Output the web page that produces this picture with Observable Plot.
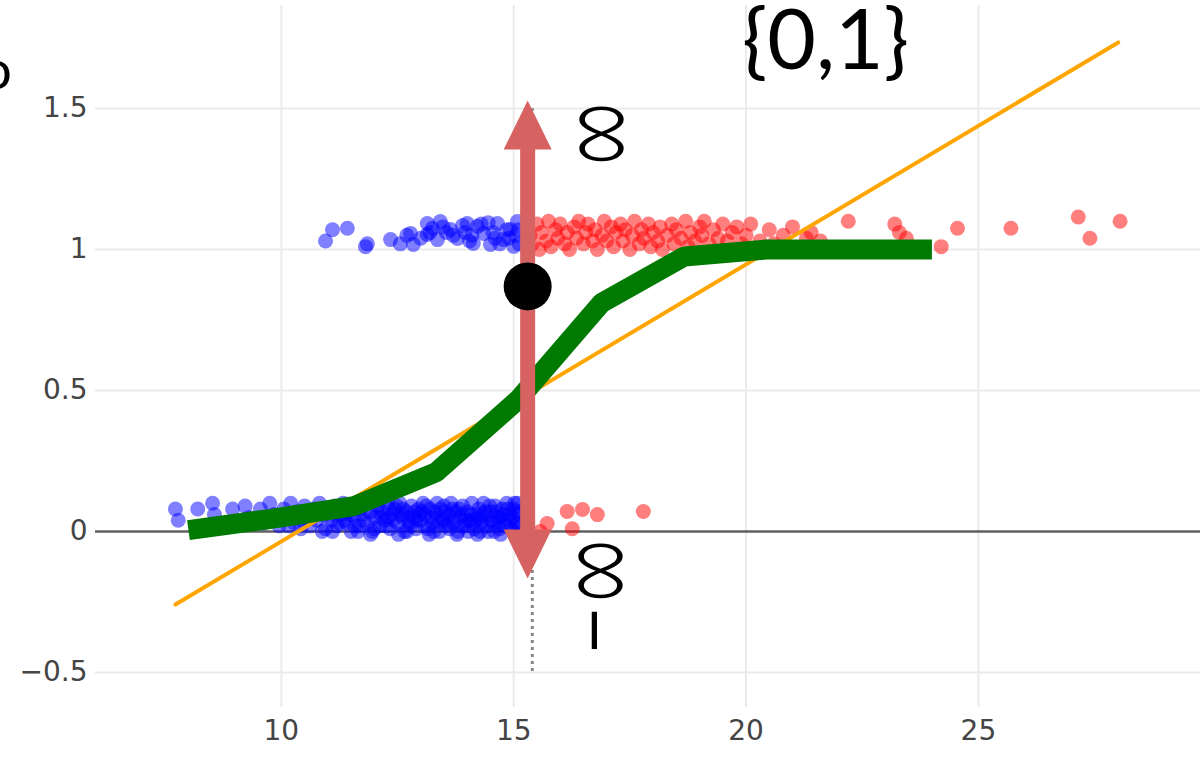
<!DOCTYPE html>
<html>
<head>
<meta charset="utf-8">
<script src="https://cdn.jsdelivr.net/npm/d3@7"></script>
<script src="https://cdn.jsdelivr.net/npm/@observablehq/plot@0.6"></script>
<style>
  html, body { margin: 0; padding: 0; background: #fff; }
  #chart svg { display: block; }
</style>
</head>
<body>
<div id="chart"></div>
<script>
// ---- data ----
const xTicks = [10, 15, 20, 25];
const yTicks = [-0.5, 0, 0.5, 1, 1.5];

// benign (blue) observations near y = 0 (jittered)
const blueLow = [
  [7.72,.08],[7.78,.04],[8.2,.08],[8.52,.1],[8.56,.06],[8.95,.08],[9.22,.09],[9.3,.05],[9.55,.08],[9.62,.03],
  [9.75,.1],[9.85,.06],[9.95,.02],[10.05,.08],[10.12,.05],[10.2,.1],[10.28,.03],[10.35,.07],[10.42,.01],[10.5,.09],
  [10.55,.05],[10.62,.02],[10.7,.08],[10.76,.04],[10.82,.1],[10.9,.06],[10.95,.01],[11.02,.08],[11.08,.04],[11.15,.09],
  [11.2,.02],[11.27,.06],[11.33,.1],[11.4,.03],[11.45,.07],[11.5,0],[11.56,.05],[11.62,.09],[11.68,.02],[11.74,.06],
  [11.8,.1],[11.85,.03],[11.9,.07],[11.96,0],[12.02,.05],[12.07,.09],[12.12,.02],[12.18,.07],[12.23,.04],[12.28,.1],
  [12.34,.01],[12.39,.06],[12.44,.08],[12.5,.03],[12.55,.1],[12.6,.05],[12.65,0],[12.7,.07],[12.75,.03],[12.8,.09],
  [12.85,.05],[12.9,.01],[12.95,.08],[13.0,.04],[13.05,.1],[13.1,.06],[13.15,.01],[13.2,.08],[13.25,.03],[13.3,.07],
  [13.35,.1],[13.4,0],[13.45,.05],[13.5,.09],[13.55,.02],[13.6,.06],[13.65,.1],[13.7,.03],[13.75,.07],[13.8,0],
  [13.85,.05],[13.9,.09],[13.95,.02],[14.0,.07],[14.05,.04],[14.1,.1],[14.15,.01],[14.2,.06],[14.25,.08],[14.3,.03],
  [14.35,.1],[14.4,.05],[14.45,0],[14.5,.07],[14.55,.03],[14.6,.09],[14.65,.05],[14.7,.01],[14.75,.08],[14.8,.04],
  [14.85,.1],[14.9,.06],[14.95,.01],[15.0,.08],[15.05,.03],[15.1,.06],[15.12,.01],
  [10.15,.02],[10.6,.06],[11.1,0],[11.35,.04],[11.7,.08],[12.0,.01],[12.3,.05],[12.48,.09],[12.7,0],[12.9,.04],
  [13.12,.09],[13.28,0],[13.48,.04],[13.68,.08],[13.88,.02],[14.08,.06],[14.28,0],[14.48,.09],[14.68,.03],[14.88,.08],
  [15.08,.1],[13.02,.07],[13.58,.03],[14.12,.03],[14.62,.07],[12.62,.08],[12.15,.05],[11.58,.02],[14.92,.04],[14.38,.07],
  [12.52,-0.01],[13.18,-0.01],[13.78,-0.01],[14.22,-0.01],[14.72,-0.01],[11.92,-0.01],[10.88,0.0],[14.98,0.0],
  [11.25,.03],[11.48,.06],[11.78,.04],[12.05,.07],[12.26,.02],[12.42,.04],[12.58,.06],[12.78,.02],[12.98,.06],[13.08,.02],
  [13.22,.05],[13.38,.03],[13.52,.07],[13.62,.01],[13.72,.05],[13.82,.08],[13.98,.04],[14.02,.0],[14.18,.04],[14.32,.06],
  [14.42,.02],[14.52,.04],[14.58,.0],[14.78,.06],[14.82,.02],[14.98,.05],[15.02,.1],[15.1,.03],[13.42,.08],[12.88,.07],
  [12.32,.08],[11.65,.0],[11.05,.06],[10.45,.04],[13.92,.06],[14.7,.05],[15.06,.07],[13.32,.05],[12.72,.05],[14.25,.05]
];

// benign (blue) observations near y = 1
const blueHigh = [
  [10.95,1.03],[11.1,1.07],[11.42,1.075],[11.81,1.01],[11.85,1.02],[12.35,1.035],[12.56,1.02],[12.7,1.05],[12.78,1.057],
  [12.84,1.018],[13.0,1.04],[13.14,1.092],[13.14,1.053],[13.25,1.075],[13.36,1.035],[13.42,1.099],[13.55,1.06],
  [13.64,1.071],[13.79,1.039],[13.9,1.085],[14.0,1.092],[14.1,1.05],[14.13,1.021],[14.22,1.082],[14.35,1.057],
  [14.45,1.095],[14.5,1.018],[14.6,1.04],[14.65,1.092],[14.78,1.035],[14.85,1.07],[14.93,1.071],[15.0,1.011],
  [15.05,1.05],[15.08,1.099],[15.12,1.02],
  [13.2,1.06],[13.48,1.08],[13.7,1.05],[13.95,1.06],[14.3,1.09],[14.55,1.06],[14.7,1.02],[14.9,1.04],[15.1,1.07],[14.05,1.03]
];

// malignant (red) observations near y = 0
const redLow = [[15.57,0],[15.72,.028],[16.15,.071],[16.26,.01],[16.48,.078],[16.8,.06],[17.79,.071]];

// malignant (red) observations near y = 1
const redHigh = [
  [15.35,1.05],[15.4,1.02],[15.5,1.09],[15.55,1.0],[15.6,1.06],[15.7,1.03],[15.75,1.1],[15.8,1.01],[15.9,1.07],
  [15.95,1.04],[16.0,1.09],[16.1,1.02],[16.15,1.06],[16.2,1.0],[16.3,1.08],[16.35,1.04],[16.4,1.1],[16.5,1.02],
  [16.55,1.06],[16.6,1.09],[16.7,1.03],[16.75,1.07],[16.8,1.0],[16.9,1.05],[16.95,1.1],[17.0,1.03],[17.1,1.08],
  [17.15,1.01],[17.2,1.06],[17.3,1.09],[17.35,1.03],[17.4,1.07],[17.5,1.0],[17.55,1.05],[17.6,1.1],[17.7,1.02],
  [17.75,1.07],[17.8,1.04],[17.9,1.09],[17.95,1.01],[18.0,1.06],[18.1,1.03],[18.15,1.08],[18.2,1.0],[18.3,1.05],
  [18.4,1.09],[18.45,1.02],[18.5,1.07],[18.6,1.04],[18.7,1.1],[18.75,1.01],[18.8,1.06],[18.9,1.03],[19.0,1.08],
  [19.05,1.05],[19.1,1.1],[19.2,1.02],[19.3,1.07],[19.4,1.04],[19.5,1.09],[19.6,1.03],[19.7,1.06],[19.8,1.08],
  [19.9,1.02],[20.0,1.05],[20.1,1.09],[20.3,1.03],[20.5,1.07],[20.6,1.02],[20.8,1.05],[21.0,1.08],[21.3,1.04],
  [21.4,1.06],[21.6,1.03],[22.2,1.1],[23.2,1.09],[23.3,1.06],[23.45,1.04],[24.2,1.01],[24.55,1.075],[25.7,1.075],
  [27.15,1.115],[27.4,1.04],[28.05,1.1]
];

// binned average of the outcome (green)
const binX = [8, 9.78, 11.56, 13.33, 15.11, 16.89, 18.67, 20.44, 22.22, 24];
const binY = [0.005, 0.045, 0.09, 0.21, 0.47, 0.81, 0.975, 1.0, 1.0, 1.0];

// least-squares line (orange), its two ends
const fitX = [7.72, 28.01];
const fitY = [-0.259, 1.734];

// annotation values
const cutX = 15.4;          // dotted threshold line
const arrowX = 15.3;        // double arrow
const arrowTop = 1.528, arrowBottom = -0.167;
const shaftTop = 1.36, shaftBottom = 0.0;
const pointY = 0.869;       // black dot
const labelSet = "{0,1}";
const labelInf = "∞";
const labelNegInf = "−∞";
const labelCut = "o";

// ---- build ----
const rows = (arr, g) => arr.map(([x, y]) => ({x, y, g}));
const pts = [...rows(blueLow, "b"), ...rows(blueHigh, "b"), ...rows(redLow, "r"), ...rows(redHigh, "r")];
const bins = binX.map((x, i) => ({x, y: binY[i]}));
const fit = fitX.map((x, i) => ({x, y: fitY[i]}));

const headUp = { draw(ctx) { ctx.moveTo(0, 0); ctx.lineTo(-24, 49); ctx.lineTo(24, 49); ctx.closePath(); } };
const headDown = { draw(ctx) { ctx.moveTo(0, 0); ctx.lineTo(-24, -49); ctx.lineTo(24, -49); ctx.closePath(); } };

const arrowColor = "#d66262";
const thinFont = "Lato, 'Open Sans', sans-serif";
const tickFont = "'DejaVu Sans', Verdana, sans-serif";

const chart = Plot.plot({
  width: 1204,
  height: 757,
  marginLeft: 95,
  marginRight: 4,
  marginTop: 5,
  marginBottom: 50,
  style: {fontFamily: tickFont, fontSize: "28px", color: "#444", background: "#fff", overflow: "hidden"},
  x: {domain: [6, 29.78]},
  y: {domain: [-0.624, 1.865]},
  marks: [
    Plot.gridX(xTicks, {stroke: "#ebebeb", strokeOpacity: 1, strokeWidth: 2}),
    Plot.gridY(yTicks.filter(d => d !== 0), {stroke: "#ebebeb", strokeOpacity: 1, strokeWidth: 2}),
    Plot.ruleY([0], {stroke: "#444", strokeWidth: 2.5, strokeOpacity: 0.85}),
    Plot.axisX(xTicks, {tickSize: 0, tickPadding: 13, fill: "#444", fontSize: 28, fontFamily: tickFont, label: null}),
    Plot.axisY(yTicks, {tickSize: 0, tickPadding: 8, fill: "#444", fontSize: 28, fontFamily: tickFont, label: null,
      tickFormat: d => d < 0 ? "\u2212" + Math.abs(d) : String(d)}),
    Plot.ruleX([cutX], {y1: 1.5, y2: -0.5, stroke: "#888", strokeWidth: 3, strokeDasharray: "3,4"}),
    Plot.dot(pts, {x: "x", y: "y", r: 7.5, fill: d => d.g === "b" ? "#0000ff" : "#ff0000", fillOpacity: 0.5, stroke: "none"}),
    Plot.line(fit, {x: "x", y: "y", stroke: "#ffa500", strokeWidth: 4}),
    Plot.line(bins, {x: "x", y: "y", stroke: "#007a00", strokeWidth: 20, strokeLinejoin: "miter", strokeLinecap: "butt"}),
    Plot.ruleX([arrowX], {y1: shaftTop, y2: shaftBottom, stroke: arrowColor, strokeWidth: 15}),
    Plot.dot([arrowX], {x: d => d, y: arrowTop, symbol: headUp, fill: arrowColor, stroke: "none"}),
    Plot.dot([arrowX], {x: d => d, y: arrowBottom, symbol: headDown, fill: arrowColor, stroke: "none"}),
    Plot.dot([arrowX], {x: d => d, y: pointY, r: 24, fill: "#000", stroke: "none"}),
    Plot.text([labelSet], {x: 21.71, y: 1.735, text: d => d, fontSize: 84, fontFamily: thinFont, fontWeight: 400, fill: "#000"}),
    Plot.text([labelInf], {x: 16.82, y: 1.41, text: d => d, rotate: -90, fontSize: 90, fontFamily: thinFont, fontWeight: 300, fill: "#000", className: "inf"}),
    Plot.text([labelNegInf], {x: 16.8, y: -0.232, text: d => d, rotate: -90, fontSize: 90, fontFamily: thinFont, fontWeight: 300, fill: "#000", className: "inf"}),
    Plot.text([labelCut], {frameAnchor: "top-left", textAnchor: "middle", lineAnchor: "middle", dx: -99, dy: 66, text: d => d, fontSize: 54, fontFamily: thinFont, fontWeight: 400, fill: "#000"})
  ]
});
// widen the rotated infinity glyphs (rounder, as in the picture)
d3.select(chart).selectAll(".inf text").each(function () {
  const t = this.getAttribute("transform") || "";
  this.setAttribute("transform", t + " scale(1,1.6)");
});
document.getElementById("chart").appendChild(chart);
</script>
</body>
</html>
